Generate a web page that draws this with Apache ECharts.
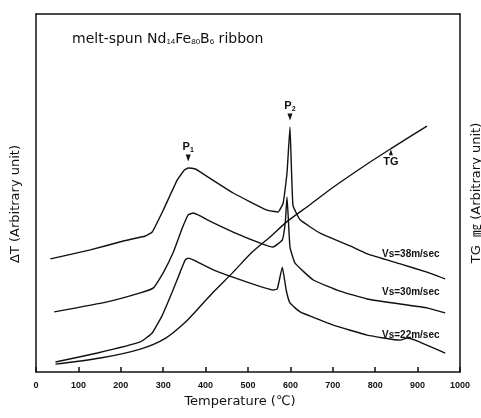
<!DOCTYPE html>
<html><head><meta charset="utf-8">
<script src="https://cdn.jsdelivr.net/npm/echarts@6/dist/echarts.min.js"></script>
<style>html,body{margin:0;padding:0;background:#fff}#c{width:481px;height:418px}</style>
</head><body><div id="c"></div>
<script>
// Temperature (°C) and DTA / TG values (arbitrary units)
const temps38 = [34,128,206,258,274,300,333,350,359,376,387,465,545,571,583,592,599,606,623,670,741,781,859,922,965];
const dta38   = [31.6,34.1,36.6,38.0,39.1,45.2,53.6,56.4,57.0,56.7,55.9,50.0,45.2,44.7,47.2,55.6,68.4,46.6,42.5,38.8,35.2,33.0,30.2,27.9,26.0];
const temps30 = [43,168,246,277,300,324,345,359,371,387,404,465,529,559,581,588,592,599,611,654,717,781,859,922,965];
const dta30   = [16.8,19.6,22.1,23.5,27.7,33.5,40.2,43.9,44.4,43.6,42.5,39.1,36.0,34.9,36.9,41.9,48.9,34.9,30.4,25.7,22.6,20.4,19.0,17.9,16.5];
const temps22 = [46,145,246,274,298,321,340,352,359,371,418,498,559,569,581,590,599,623,701,781,859,875,894,965];
const dta22   = [2.8,5.3,8.4,10.9,15.9,22.3,27.9,31.3,31.8,31.3,28.5,25.1,22.9,23.2,29.3,22.9,19.3,16.8,13.1,10.3,8.9,9.5,8.9,5.3];
const tempsTG = [46,152,246,305,352,387,418,465,510,552,592,647,701,781,840,922];
const tg      = [2.2,3.9,6.4,9.4,13.9,18.3,22.3,27.9,33.5,37.7,42.0,46.8,51.6,58.1,62.6,68.7];
const xTicks  = [0,100,200,300,400,500,600,700,800,900,1000];
const seriesNames = ['Vs=38m/sec','Vs=30m/sec','Vs=22m/sec','TG'];

const zip = (a,b) => a.map((t,i)=>[t,b[i]]);
const ink = '#111';
const font = 'Liberation Sans, Arial, sans-serif';
const font2 = 'DejaVu Sans, sans-serif';
const chart = echarts.init(document.getElementById('c'));

const lineBase = {type:'line', showSymbol:false, symbol:'none', smooth:0.12,
  lineStyle:{color:ink, width:1.4}, animation:false, z:3};

const arrowLabel = (txt, sub, pos) => ({
  show:true, position:pos, distance:1, color:ink,
  formatter: sub ? '{p|'+txt+'}{s|'+sub+'}' : '{p|'+txt+'}',
  rich:{p:{fontFamily:font,fontSize:11,fontWeight:'bold',color:ink},
        s:{fontFamily:font,fontSize:7,fontWeight:'bold',color:ink,verticalAlign:'bottom',padding:[6,0,0,0]}}
});
const frameLine = {show:true, onZero:false, lineStyle:{color:ink, width:1.5}};

chart.setOption({
  animation:false,
  backgroundColor:'#fff',
  grid:{left:36, right:21, top:14, bottom:46, containLabel:false, outerBoundsMode:'none'},
  xAxis:[{
    type:'value', min:0, max:1000, interval:100,
    axisLine:frameLine,
    axisTick:{show:true, inside:true, length:5, lineStyle:{color:ink, width:1.5}},
    axisLabel:{color:ink, fontFamily:font, fontSize:9, fontWeight:'bold', margin:9,
      showMinLabel:true, showMaxLabel:true,
      formatter:v=> xTicks.includes(v) ? String(v) : ''},
    splitLine:{show:false},
    name:'Temperature (℃)', nameLocation:'middle', nameGap:22,
    nameTextStyle:{color:ink, fontFamily:font2, fontSize:13, padding:[0,16,0,0]}
  },{
    type:'value', min:0, max:1000, position:'top',
    axisLine:frameLine,
    axisTick:{show:false}, axisLabel:{show:false}, splitLine:{show:false}
  }],
  yAxis:[{
    type:'value', min:0, max:100,
    axisLine:frameLine,
    axisTick:{show:false}, axisLabel:{show:false}, splitLine:{show:false},
    name:'ΔT (Arbitrary unit)', nameLocation:'middle', nameGap:14,
    nameTextStyle:{color:ink, fontFamily:font2, fontSize:13, padding:[0,22,0,0]}
  },{
    type:'value', min:0, max:100, position:'right',
    axisLine:frameLine,
    axisTick:{show:false}, axisLabel:{show:false}, splitLine:{show:false},
    name:'TG  ㎎ (Arbitrary unit)', nameLocation:'middle', nameGap:10, nameRotate:90,
    nameTextStyle:{color:ink, fontFamily:font2+', Noto Sans CJK JP', fontSize:13}
  }],
  series:[
    Object.assign({}, lineBase, {name:seriesNames[0], data:zip(temps38,dta38),
      markPoint:{symbol:'triangle', symbolSize:[5,7], symbolRotate:180, silent:true,
        itemStyle:{color:ink},
        data:[{coord:[359,59.8], label:arrowLabel('P','1','top')},
              {coord:[599,71.2], label:arrowLabel('P','2','top')}]}}),
    Object.assign({}, lineBase, {name:seriesNames[1], data:zip(temps30,dta30)}),
    Object.assign({}, lineBase, {name:seriesNames[2], data:zip(temps22,dta22)}),
    Object.assign({}, lineBase, {name:seriesNames[3], data:zip(tempsTG,tg), smooth:0.3,
      markPoint:{symbol:'triangle', symbolSize:[4,6], silent:true, itemStyle:{color:ink},
        data:[{coord:[837,61.4], label:arrowLabel('TG',null,'bottom')}]}})
  ],
  graphic:[
    {type:'text', left:72, top:32, style:{
      text:'melt-spun Nd{s|14}Fe{s|80}B{s|6} ribbon',
      rich:{s:{fontFamily:font, fontSize:8, fill:ink, verticalAlign:'bottom', padding:[6,0,0,0]}},
      fontFamily:font2, fontSize:14, fill:ink}},
    {type:'text', left:382, top:249, style:{text:seriesNames[0], fontFamily:font, fontSize:10, fontWeight:'bold', fill:ink}},
    {type:'text', left:382, top:287, style:{text:seriesNames[1], fontFamily:font, fontSize:10, fontWeight:'bold', fill:ink}},
    {type:'text', left:382, top:330, style:{text:seriesNames[2], fontFamily:font, fontSize:10, fontWeight:'bold', fill:ink}}
  ]
});
</script></body></html>
